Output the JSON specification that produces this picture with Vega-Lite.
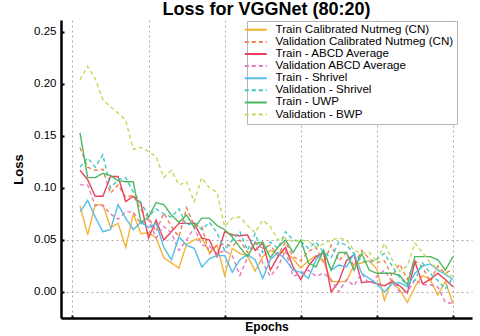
{
"$schema": "https://vega.github.io/schema/vega-lite/v6.json",
"width": 411, "height": 298,
"autosize": "none",
"padding": {"left": 61, "top": 20, "right": 8, "bottom": 18},
"background": "white",
"title": {"text": "Loss for VGGNet (80:20)", "font": "Liberation Sans", "fontSize": 18, "fontWeight": "bold", "color": "black", "anchor": "middle", "baseline": "alphabetic", "offset": -13},
"config": {"view": {"stroke": null}, "font": "Liberation Sans",
 "legend": {"orient": "none", "legendX": 186, "legendY": 1, "title": null, "strokeColor": "#b5b5b5", "fillColor": "white", "padding": 3, "labelFont": "Liberation Sans", "labelFontSize": 11.6, "labelColor": "black", "symbolType": "M-2.75,0H2.75", "symbolSize": 64, "symbolStrokeWidth": 2, "rowPadding": -0.9, "labelOffset": 14, "labelLimit": 300, "offset": 0}},
"data": {"values": [
{"epoch":1,"series":"Train Calibrated Nutmeg (CN)","loss":0.083},{"epoch":2,"series":"Train Calibrated Nutmeg (CN)","loss":0.055},{"epoch":3,"series":"Train Calibrated Nutmeg (CN)","loss":0.084},{"epoch":4,"series":"Train Calibrated Nutmeg (CN)","loss":0.084},{"epoch":5,"series":"Train Calibrated Nutmeg (CN)","loss":0.062},{"epoch":6,"series":"Train Calibrated Nutmeg (CN)","loss":0.066},{"epoch":7,"series":"Train Calibrated Nutmeg (CN)","loss":0.043},{"epoch":8,"series":"Train Calibrated Nutmeg (CN)","loss":0.075},{"epoch":9,"series":"Train Calibrated Nutmeg (CN)","loss":0.056},{"epoch":10,"series":"Train Calibrated Nutmeg (CN)","loss":0.057},
{"epoch":11,"series":"Train Calibrated Nutmeg (CN)","loss":0.052},{"epoch":12,"series":"Train Calibrated Nutmeg (CN)","loss":0.033},{"epoch":13,"series":"Train Calibrated Nutmeg (CN)","loss":0.028},{"epoch":14,"series":"Train Calibrated Nutmeg (CN)","loss":0.023},{"epoch":15,"series":"Train Calibrated Nutmeg (CN)","loss":0.046},{"epoch":16,"series":"Train Calibrated Nutmeg (CN)","loss":0.05},{"epoch":17,"series":"Train Calibrated Nutmeg (CN)","loss":0.052},{"epoch":18,"series":"Train Calibrated Nutmeg (CN)","loss":0.038},{"epoch":19,"series":"Train Calibrated Nutmeg (CN)","loss":0.045},{"epoch":20,"series":"Train Calibrated Nutmeg (CN)","loss":0.016},
{"epoch":21,"series":"Train Calibrated Nutmeg (CN)","loss":0.042},{"epoch":22,"series":"Train Calibrated Nutmeg (CN)","loss":0.037},{"epoch":23,"series":"Train Calibrated Nutmeg (CN)","loss":0.035},{"epoch":24,"series":"Train Calibrated Nutmeg (CN)","loss":0.02},{"epoch":25,"series":"Train Calibrated Nutmeg (CN)","loss":0.034},{"epoch":26,"series":"Train Calibrated Nutmeg (CN)","loss":0.04},{"epoch":27,"series":"Train Calibrated Nutmeg (CN)","loss":0.037},{"epoch":28,"series":"Train Calibrated Nutmeg (CN)","loss":0.038},{"epoch":29,"series":"Train Calibrated Nutmeg (CN)","loss":0.032},{"epoch":30,"series":"Train Calibrated Nutmeg (CN)","loss":0.023},
{"epoch":31,"series":"Train Calibrated Nutmeg (CN)","loss":0.03},{"epoch":32,"series":"Train Calibrated Nutmeg (CN)","loss":0.035},{"epoch":33,"series":"Train Calibrated Nutmeg (CN)","loss":0.03},{"epoch":34,"series":"Train Calibrated Nutmeg (CN)","loss":0.01},{"epoch":35,"series":"Train Calibrated Nutmeg (CN)","loss":0.01},{"epoch":36,"series":"Train Calibrated Nutmeg (CN)","loss":0.01},{"epoch":37,"series":"Train Calibrated Nutmeg (CN)","loss":0.026},{"epoch":38,"series":"Train Calibrated Nutmeg (CN)","loss":0.028},{"epoch":39,"series":"Train Calibrated Nutmeg (CN)","loss":0.03},{"epoch":40,"series":"Train Calibrated Nutmeg (CN)","loss":0.022},
{"epoch":41,"series":"Train Calibrated Nutmeg (CN)","loss":-0.008},{"epoch":42,"series":"Train Calibrated Nutmeg (CN)","loss":0.012},{"epoch":43,"series":"Train Calibrated Nutmeg (CN)","loss":0.002},{"epoch":44,"series":"Train Calibrated Nutmeg (CN)","loss":-0.01},{"epoch":45,"series":"Train Calibrated Nutmeg (CN)","loss":0.005},{"epoch":46,"series":"Train Calibrated Nutmeg (CN)","loss":0.016},{"epoch":47,"series":"Train Calibrated Nutmeg (CN)","loss":0.012},{"epoch":48,"series":"Train Calibrated Nutmeg (CN)","loss":-0.003},{"epoch":49,"series":"Train Calibrated Nutmeg (CN)","loss":0.01},{"epoch":50,"series":"Train Calibrated Nutmeg (CN)","loss":-0.011},

{"epoch":1,"series":"Validation Calibrated Nutmeg (CN)","loss":0.139},{"epoch":2,"series":"Validation Calibrated Nutmeg (CN)","loss":0.12},{"epoch":3,"series":"Validation Calibrated Nutmeg (CN)","loss":0.117},{"epoch":4,"series":"Validation Calibrated Nutmeg (CN)","loss":0.118},{"epoch":5,"series":"Validation Calibrated Nutmeg (CN)","loss":0.095},{"epoch":6,"series":"Validation Calibrated Nutmeg (CN)","loss":0.103},{"epoch":7,"series":"Validation Calibrated Nutmeg (CN)","loss":0.091},{"epoch":8,"series":"Validation Calibrated Nutmeg (CN)","loss":0.093},{"epoch":9,"series":"Validation Calibrated Nutmeg (CN)","loss":0.079},{"epoch":10,"series":"Validation Calibrated Nutmeg (CN)","loss":0.072},
{"epoch":11,"series":"Validation Calibrated Nutmeg (CN)","loss":0.058},{"epoch":12,"series":"Validation Calibrated Nutmeg (CN)","loss":0.076},{"epoch":13,"series":"Validation Calibrated Nutmeg (CN)","loss":0.063},{"epoch":14,"series":"Validation Calibrated Nutmeg (CN)","loss":0.053},{"epoch":15,"series":"Validation Calibrated Nutmeg (CN)","loss":0.081},{"epoch":16,"series":"Validation Calibrated Nutmeg (CN)","loss":0.064},{"epoch":17,"series":"Validation Calibrated Nutmeg (CN)","loss":0.063},{"epoch":18,"series":"Validation Calibrated Nutmeg (CN)","loss":0.037},{"epoch":19,"series":"Validation Calibrated Nutmeg (CN)","loss":0.045},{"epoch":20,"series":"Validation Calibrated Nutmeg (CN)","loss":0.046},
{"epoch":21,"series":"Validation Calibrated Nutmeg (CN)","loss":0.044},{"epoch":22,"series":"Validation Calibrated Nutmeg (CN)","loss":0.05},{"epoch":23,"series":"Validation Calibrated Nutmeg (CN)","loss":0.038},{"epoch":24,"series":"Validation Calibrated Nutmeg (CN)","loss":0.047},{"epoch":25,"series":"Validation Calibrated Nutmeg (CN)","loss":0.042},{"epoch":26,"series":"Validation Calibrated Nutmeg (CN)","loss":0.045},{"epoch":27,"series":"Validation Calibrated Nutmeg (CN)","loss":0.035},{"epoch":28,"series":"Validation Calibrated Nutmeg (CN)","loss":0.048},{"epoch":29,"series":"Validation Calibrated Nutmeg (CN)","loss":0.034},{"epoch":30,"series":"Validation Calibrated Nutmeg (CN)","loss":0.03},
{"epoch":31,"series":"Validation Calibrated Nutmeg (CN)","loss":0.039},{"epoch":32,"series":"Validation Calibrated Nutmeg (CN)","loss":0.043},{"epoch":33,"series":"Validation Calibrated Nutmeg (CN)","loss":0.028},{"epoch":34,"series":"Validation Calibrated Nutmeg (CN)","loss":0.045},{"epoch":35,"series":"Validation Calibrated Nutmeg (CN)","loss":0.03},{"epoch":36,"series":"Validation Calibrated Nutmeg (CN)","loss":0.038},{"epoch":37,"series":"Validation Calibrated Nutmeg (CN)","loss":0.025},{"epoch":38,"series":"Validation Calibrated Nutmeg (CN)","loss":0.04},{"epoch":39,"series":"Validation Calibrated Nutmeg (CN)","loss":0.032},{"epoch":40,"series":"Validation Calibrated Nutmeg (CN)","loss":0.028},
{"epoch":41,"series":"Validation Calibrated Nutmeg (CN)","loss":0.03},{"epoch":42,"series":"Validation Calibrated Nutmeg (CN)","loss":0.015},{"epoch":43,"series":"Validation Calibrated Nutmeg (CN)","loss":0.027},{"epoch":44,"series":"Validation Calibrated Nutmeg (CN)","loss":0.012},{"epoch":45,"series":"Validation Calibrated Nutmeg (CN)","loss":0.03},{"epoch":46,"series":"Validation Calibrated Nutmeg (CN)","loss":0.024},{"epoch":47,"series":"Validation Calibrated Nutmeg (CN)","loss":0.01},{"epoch":48,"series":"Validation Calibrated Nutmeg (CN)","loss":0.025},{"epoch":49,"series":"Validation Calibrated Nutmeg (CN)","loss":0.018},{"epoch":50,"series":"Validation Calibrated Nutmeg (CN)","loss":0.022},

{"epoch":1,"series":"Train - ABCD Average","loss":0.117},{"epoch":2,"series":"Train - ABCD Average","loss":0.108},{"epoch":3,"series":"Train - ABCD Average","loss":0.092},{"epoch":4,"series":"Train - ABCD Average","loss":0.092},{"epoch":5,"series":"Train - ABCD Average","loss":0.111},{"epoch":6,"series":"Train - ABCD Average","loss":0.111},{"epoch":7,"series":"Train - ABCD Average","loss":0.087},{"epoch":8,"series":"Train - ABCD Average","loss":0.092},{"epoch":9,"series":"Train - ABCD Average","loss":0.085},{"epoch":10,"series":"Train - ABCD Average","loss":0.052},
{"epoch":11,"series":"Train - ABCD Average","loss":0.069},{"epoch":12,"series":"Train - ABCD Average","loss":0.05},{"epoch":13,"series":"Train - ABCD Average","loss":0.058},{"epoch":14,"series":"Train - ABCD Average","loss":0.066},{"epoch":15,"series":"Train - ABCD Average","loss":0.066},{"epoch":16,"series":"Train - ABCD Average","loss":0.066},{"epoch":17,"series":"Train - ABCD Average","loss":0.052},{"epoch":18,"series":"Train - ABCD Average","loss":0.05},{"epoch":19,"series":"Train - ABCD Average","loss":0.034},{"epoch":20,"series":"Train - ABCD Average","loss":0.058},
{"epoch":21,"series":"Train - ABCD Average","loss":0.055},{"epoch":22,"series":"Train - ABCD Average","loss":0.054},{"epoch":23,"series":"Train - ABCD Average","loss":0.055},{"epoch":24,"series":"Train - ABCD Average","loss":0.04},{"epoch":25,"series":"Train - ABCD Average","loss":0.047},{"epoch":26,"series":"Train - ABCD Average","loss":0.021},{"epoch":27,"series":"Train - ABCD Average","loss":0.034},{"epoch":28,"series":"Train - ABCD Average","loss":0.043},{"epoch":29,"series":"Train - ABCD Average","loss":0.024},{"epoch":30,"series":"Train - ABCD Average","loss":0.012},
{"epoch":31,"series":"Train - ABCD Average","loss":0.025},{"epoch":32,"series":"Train - ABCD Average","loss":0.034},{"epoch":33,"series":"Train - ABCD Average","loss":0.038},{"epoch":34,"series":"Train - ABCD Average","loss":0.0},{"epoch":35,"series":"Train - ABCD Average","loss":0.01},{"epoch":36,"series":"Train - ABCD Average","loss":0.03},{"epoch":37,"series":"Train - ABCD Average","loss":0.036},{"epoch":38,"series":"Train - ABCD Average","loss":0.009},{"epoch":39,"series":"Train - ABCD Average","loss":0.01},{"epoch":40,"series":"Train - ABCD Average","loss":0.008},
{"epoch":41,"series":"Train - ABCD Average","loss":0.006},{"epoch":42,"series":"Train - ABCD Average","loss":0.01},{"epoch":43,"series":"Train - ABCD Average","loss":0.006},{"epoch":44,"series":"Train - ABCD Average","loss":-0.001},{"epoch":45,"series":"Train - ABCD Average","loss":0.029},{"epoch":46,"series":"Train - ABCD Average","loss":0.008},{"epoch":47,"series":"Train - ABCD Average","loss":0.012},{"epoch":48,"series":"Train - ABCD Average","loss":0.018},{"epoch":49,"series":"Train - ABCD Average","loss":0.012},{"epoch":50,"series":"Train - ABCD Average","loss":0.005},

{"epoch":1,"series":"Validation ABCD Average","loss":0.103},{"epoch":2,"series":"Validation ABCD Average","loss":0.103},{"epoch":3,"series":"Validation ABCD Average","loss":0.083},{"epoch":4,"series":"Validation ABCD Average","loss":0.083},{"epoch":5,"series":"Validation ABCD Average","loss":0.075},{"epoch":6,"series":"Validation ABCD Average","loss":0.07},{"epoch":7,"series":"Validation ABCD Average","loss":0.077},{"epoch":8,"series":"Validation ABCD Average","loss":0.077},{"epoch":9,"series":"Validation ABCD Average","loss":0.065},{"epoch":10,"series":"Validation ABCD Average","loss":0.07},
{"epoch":11,"series":"Validation ABCD Average","loss":0.052},{"epoch":12,"series":"Validation ABCD Average","loss":0.063},{"epoch":13,"series":"Validation ABCD Average","loss":0.057},{"epoch":14,"series":"Validation ABCD Average","loss":0.04},{"epoch":15,"series":"Validation ABCD Average","loss":0.05},{"epoch":16,"series":"Validation ABCD Average","loss":0.062},{"epoch":17,"series":"Validation ABCD Average","loss":0.045},{"epoch":18,"series":"Validation ABCD Average","loss":0.044},{"epoch":19,"series":"Validation ABCD Average","loss":0.037},{"epoch":20,"series":"Validation ABCD Average","loss":0.04},
{"epoch":21,"series":"Validation ABCD Average","loss":0.035},{"epoch":22,"series":"Validation ABCD Average","loss":0.016},{"epoch":23,"series":"Validation ABCD Average","loss":0.033},{"epoch":24,"series":"Validation ABCD Average","loss":0.048},{"epoch":25,"series":"Validation ABCD Average","loss":0.028},{"epoch":26,"series":"Validation ABCD Average","loss":0.015},{"epoch":27,"series":"Validation ABCD Average","loss":0.024},{"epoch":28,"series":"Validation ABCD Average","loss":0.04},{"epoch":29,"series":"Validation ABCD Average","loss":0.015},{"epoch":30,"series":"Validation ABCD Average","loss":0.018},
{"epoch":31,"series":"Validation ABCD Average","loss":0.021},{"epoch":32,"series":"Validation ABCD Average","loss":0.015},{"epoch":33,"series":"Validation ABCD Average","loss":0.018},{"epoch":34,"series":"Validation ABCD Average","loss":0.012},{"epoch":35,"series":"Validation ABCD Average","loss":0.0},{"epoch":36,"series":"Validation ABCD Average","loss":0.012},{"epoch":37,"series":"Validation ABCD Average","loss":0.006},{"epoch":38,"series":"Validation ABCD Average","loss":0.018},{"epoch":39,"series":"Validation ABCD Average","loss":0.008},{"epoch":40,"series":"Validation ABCD Average","loss":0.015},
{"epoch":41,"series":"Validation ABCD Average","loss":0.021},{"epoch":42,"series":"Validation ABCD Average","loss":0.01},{"epoch":43,"series":"Validation ABCD Average","loss":0.0},{"epoch":44,"series":"Validation ABCD Average","loss":0.0},{"epoch":45,"series":"Validation ABCD Average","loss":0.012},{"epoch":46,"series":"Validation ABCD Average","loss":0.007},{"epoch":47,"series":"Validation ABCD Average","loss":0.007},{"epoch":48,"series":"Validation ABCD Average","loss":0.005},{"epoch":49,"series":"Validation ABCD Average","loss":-0.01},{"epoch":50,"series":"Validation ABCD Average","loss":-0.011},

{"epoch":1,"series":"Train - Shrivel","loss":0.077},{"epoch":2,"series":"Train - Shrivel","loss":0.088},{"epoch":3,"series":"Train - Shrivel","loss":0.072},{"epoch":4,"series":"Train - Shrivel","loss":0.058},{"epoch":5,"series":"Train - Shrivel","loss":0.06},{"epoch":6,"series":"Train - Shrivel","loss":0.084},{"epoch":7,"series":"Train - Shrivel","loss":0.071},{"epoch":8,"series":"Train - Shrivel","loss":0.06},{"epoch":9,"series":"Train - Shrivel","loss":0.067},{"epoch":10,"series":"Train - Shrivel","loss":0.062},
{"epoch":11,"series":"Train - Shrivel","loss":0.066},{"epoch":12,"series":"Train - Shrivel","loss":0.043},{"epoch":13,"series":"Train - Shrivel","loss":0.031},{"epoch":14,"series":"Train - Shrivel","loss":0.053},{"epoch":15,"series":"Train - Shrivel","loss":0.045},{"epoch":16,"series":"Train - Shrivel","loss":0.042},{"epoch":17,"series":"Train - Shrivel","loss":0.024},{"epoch":18,"series":"Train - Shrivel","loss":0.032},{"epoch":19,"series":"Train - Shrivel","loss":0.035},{"epoch":20,"series":"Train - Shrivel","loss":0.035},
{"epoch":21,"series":"Train - Shrivel","loss":0.019},{"epoch":22,"series":"Train - Shrivel","loss":0.031},{"epoch":23,"series":"Train - Shrivel","loss":0.036},{"epoch":24,"series":"Train - Shrivel","loss":0.031},{"epoch":25,"series":"Train - Shrivel","loss":0.013},{"epoch":26,"series":"Train - Shrivel","loss":0.031},{"epoch":27,"series":"Train - Shrivel","loss":0.038},{"epoch":28,"series":"Train - Shrivel","loss":0.031},{"epoch":29,"series":"Train - Shrivel","loss":0.021},{"epoch":30,"series":"Train - Shrivel","loss":0.019},
{"epoch":31,"series":"Train - Shrivel","loss":0.013},{"epoch":32,"series":"Train - Shrivel","loss":0.031},{"epoch":33,"series":"Train - Shrivel","loss":0.04},{"epoch":34,"series":"Train - Shrivel","loss":0.021},{"epoch":35,"series":"Train - Shrivel","loss":0.026},{"epoch":36,"series":"Train - Shrivel","loss":0.024},{"epoch":37,"series":"Train - Shrivel","loss":0.037},{"epoch":38,"series":"Train - Shrivel","loss":0.018},{"epoch":39,"series":"Train - Shrivel","loss":0.013},{"epoch":40,"series":"Train - Shrivel","loss":0.008},
{"epoch":41,"series":"Train - Shrivel","loss":0.0},{"epoch":42,"series":"Train - Shrivel","loss":0.008},{"epoch":43,"series":"Train - Shrivel","loss":0.009},{"epoch":44,"series":"Train - Shrivel","loss":0.005},{"epoch":45,"series":"Train - Shrivel","loss":0.018},{"epoch":46,"series":"Train - Shrivel","loss":0.025},{"epoch":47,"series":"Train - Shrivel","loss":0.027},{"epoch":48,"series":"Train - Shrivel","loss":0.021},{"epoch":49,"series":"Train - Shrivel","loss":0.017},{"epoch":50,"series":"Train - Shrivel","loss":0.012},

{"epoch":1,"series":"Validation - Shrivel","loss":0.12},{"epoch":2,"series":"Validation - Shrivel","loss":0.129},{"epoch":3,"series":"Validation - Shrivel","loss":0.12},{"epoch":4,"series":"Validation - Shrivel","loss":0.132},{"epoch":5,"series":"Validation - Shrivel","loss":0.1},{"epoch":6,"series":"Validation - Shrivel","loss":0.108},{"epoch":7,"series":"Validation - Shrivel","loss":0.11},{"epoch":8,"series":"Validation - Shrivel","loss":0.096},{"epoch":9,"series":"Validation - Shrivel","loss":0.086},{"epoch":10,"series":"Validation - Shrivel","loss":0.073},
{"epoch":11,"series":"Validation - Shrivel","loss":0.08},{"epoch":12,"series":"Validation - Shrivel","loss":0.075},{"epoch":13,"series":"Validation - Shrivel","loss":0.072},{"epoch":14,"series":"Validation - Shrivel","loss":0.08},{"epoch":15,"series":"Validation - Shrivel","loss":0.064},{"epoch":16,"series":"Validation - Shrivel","loss":0.067},{"epoch":17,"series":"Validation - Shrivel","loss":0.06},{"epoch":18,"series":"Validation - Shrivel","loss":0.067},{"epoch":19,"series":"Validation - Shrivel","loss":0.057},{"epoch":20,"series":"Validation - Shrivel","loss":0.04},
{"epoch":21,"series":"Validation - Shrivel","loss":0.05},{"epoch":22,"series":"Validation - Shrivel","loss":0.058},{"epoch":23,"series":"Validation - Shrivel","loss":0.04},{"epoch":24,"series":"Validation - Shrivel","loss":0.056},{"epoch":25,"series":"Validation - Shrivel","loss":0.038},{"epoch":26,"series":"Validation - Shrivel","loss":0.048},{"epoch":27,"series":"Validation - Shrivel","loss":0.042},{"epoch":28,"series":"Validation - Shrivel","loss":0.058},{"epoch":29,"series":"Validation - Shrivel","loss":0.05},{"epoch":30,"series":"Validation - Shrivel","loss":0.049},
{"epoch":31,"series":"Validation - Shrivel","loss":0.042},{"epoch":32,"series":"Validation - Shrivel","loss":0.048},{"epoch":33,"series":"Validation - Shrivel","loss":0.038},{"epoch":34,"series":"Validation - Shrivel","loss":0.033},{"epoch":35,"series":"Validation - Shrivel","loss":0.048},{"epoch":36,"series":"Validation - Shrivel","loss":0.045},{"epoch":37,"series":"Validation - Shrivel","loss":0.037},{"epoch":38,"series":"Validation - Shrivel","loss":0.03},{"epoch":39,"series":"Validation - Shrivel","loss":0.028},{"epoch":40,"series":"Validation - Shrivel","loss":0.032},
{"epoch":41,"series":"Validation - Shrivel","loss":0.037},{"epoch":42,"series":"Validation - Shrivel","loss":0.025},{"epoch":43,"series":"Validation - Shrivel","loss":0.014},{"epoch":44,"series":"Validation - Shrivel","loss":0.007},{"epoch":45,"series":"Validation - Shrivel","loss":0.011},{"epoch":46,"series":"Validation - Shrivel","loss":0.028},{"epoch":47,"series":"Validation - Shrivel","loss":0.018},{"epoch":48,"series":"Validation - Shrivel","loss":0.011},{"epoch":49,"series":"Validation - Shrivel","loss":0.003},{"epoch":50,"series":"Validation - Shrivel","loss":0.014},

{"epoch":1,"series":"Train - UWP","loss":0.153},{"epoch":2,"series":"Train - UWP","loss":0.11},{"epoch":3,"series":"Train - UWP","loss":0.11},{"epoch":4,"series":"Train - UWP","loss":0.114},{"epoch":5,"series":"Train - UWP","loss":0.112},{"epoch":6,"series":"Train - UWP","loss":0.107},{"epoch":7,"series":"Train - UWP","loss":0.106},{"epoch":8,"series":"Train - UWP","loss":0.106},{"epoch":9,"series":"Train - UWP","loss":0.067},{"epoch":10,"series":"Train - UWP","loss":0.072},
{"epoch":11,"series":"Train - UWP","loss":0.086},{"epoch":12,"series":"Train - UWP","loss":0.084},{"epoch":13,"series":"Train - UWP","loss":0.074},{"epoch":14,"series":"Train - UWP","loss":0.067},{"epoch":15,"series":"Train - UWP","loss":0.074},{"epoch":16,"series":"Train - UWP","loss":0.062},{"epoch":17,"series":"Train - UWP","loss":0.071},{"epoch":18,"series":"Train - UWP","loss":0.071},{"epoch":19,"series":"Train - UWP","loss":0.064},{"epoch":20,"series":"Train - UWP","loss":0.06},
{"epoch":21,"series":"Train - UWP","loss":0.053},{"epoch":22,"series":"Train - UWP","loss":0.043},{"epoch":23,"series":"Train - UWP","loss":0.034},{"epoch":24,"series":"Train - UWP","loss":0.047},{"epoch":25,"series":"Train - UWP","loss":0.048},{"epoch":26,"series":"Train - UWP","loss":0.033},{"epoch":27,"series":"Train - UWP","loss":0.043},{"epoch":28,"series":"Train - UWP","loss":0.05},{"epoch":29,"series":"Train - UWP","loss":0.038},{"epoch":30,"series":"Train - UWP","loss":0.05},
{"epoch":31,"series":"Train - UWP","loss":0.028},{"epoch":32,"series":"Train - UWP","loss":0.024},{"epoch":33,"series":"Train - UWP","loss":0.04},{"epoch":34,"series":"Train - UWP","loss":0.021},{"epoch":35,"series":"Train - UWP","loss":0.038},{"epoch":36,"series":"Train - UWP","loss":0.038},{"epoch":37,"series":"Train - UWP","loss":0.021},{"epoch":38,"series":"Train - UWP","loss":0.037},{"epoch":39,"series":"Train - UWP","loss":0.021},{"epoch":40,"series":"Train - UWP","loss":0.018},
{"epoch":41,"series":"Train - UWP","loss":0.018},{"epoch":42,"series":"Train - UWP","loss":0.018},{"epoch":43,"series":"Train - UWP","loss":0.016},{"epoch":44,"series":"Train - UWP","loss":0.007},{"epoch":45,"series":"Train - UWP","loss":0.034},{"epoch":46,"series":"Train - UWP","loss":0.034},{"epoch":47,"series":"Train - UWP","loss":0.034},{"epoch":48,"series":"Train - UWP","loss":0.031},{"epoch":49,"series":"Train - UWP","loss":0.021},{"epoch":50,"series":"Train - UWP","loss":0.034},

{"epoch":1,"series":"Validation - BWP","loss":0.204},{"epoch":2,"series":"Validation - BWP","loss":0.217},{"epoch":3,"series":"Validation - BWP","loss":0.205},{"epoch":4,"series":"Validation - BWP","loss":0.185},{"epoch":5,"series":"Validation - BWP","loss":0.178},{"epoch":6,"series":"Validation - BWP","loss":0.172},{"epoch":7,"series":"Validation - BWP","loss":0.165},{"epoch":8,"series":"Validation - BWP","loss":0.137},{"epoch":9,"series":"Validation - BWP","loss":0.139},{"epoch":10,"series":"Validation - BWP","loss":0.135},
{"epoch":11,"series":"Validation - BWP","loss":0.13},{"epoch":12,"series":"Validation - BWP","loss":0.11},{"epoch":13,"series":"Validation - BWP","loss":0.117},{"epoch":14,"series":"Validation - BWP","loss":0.103},{"epoch":15,"series":"Validation - BWP","loss":0.106},{"epoch":16,"series":"Validation - BWP","loss":0.087},{"epoch":17,"series":"Validation - BWP","loss":0.11},{"epoch":18,"series":"Validation - BWP","loss":0.1},{"epoch":19,"series":"Validation - BWP","loss":0.096},{"epoch":20,"series":"Validation - BWP","loss":0.063},
{"epoch":21,"series":"Validation - BWP","loss":0.071},{"epoch":22,"series":"Validation - BWP","loss":0.072},{"epoch":23,"series":"Validation - BWP","loss":0.064},{"epoch":24,"series":"Validation - BWP","loss":0.057},{"epoch":25,"series":"Validation - BWP","loss":0.069},{"epoch":26,"series":"Validation - BWP","loss":0.063},{"epoch":27,"series":"Validation - BWP","loss":0.05},{"epoch":28,"series":"Validation - BWP","loss":0.052},{"epoch":29,"series":"Validation - BWP","loss":0.048},{"epoch":30,"series":"Validation - BWP","loss":0.05},
{"epoch":31,"series":"Validation - BWP","loss":0.049},{"epoch":32,"series":"Validation - BWP","loss":0.043},{"epoch":33,"series":"Validation - BWP","loss":0.046},{"epoch":34,"series":"Validation - BWP","loss":0.05},{"epoch":35,"series":"Validation - BWP","loss":0.052},{"epoch":36,"series":"Validation - BWP","loss":0.05},{"epoch":37,"series":"Validation - BWP","loss":0.04},{"epoch":38,"series":"Validation - BWP","loss":0.037},{"epoch":39,"series":"Validation - BWP","loss":0.038},{"epoch":40,"series":"Validation - BWP","loss":0.029},
{"epoch":41,"series":"Validation - BWP","loss":0.047},{"epoch":42,"series":"Validation - BWP","loss":0.031},{"epoch":43,"series":"Validation - BWP","loss":0.02},{"epoch":44,"series":"Validation - BWP","loss":0.025},{"epoch":45,"series":"Validation - BWP","loss":0.047},{"epoch":46,"series":"Validation - BWP","loss":0.038},{"epoch":47,"series":"Validation - BWP","loss":0.028},{"epoch":48,"series":"Validation - BWP","loss":0.022},{"epoch":49,"series":"Validation - BWP","loss":0.018},{"epoch":50,"series":"Validation - BWP","loss":0.015}
]},
"mark": {"type": "line", "strokeWidth": 1.4, "clip": true},
"encoding": {
 "x": {"field": "epoch", "type": "quantitative",
  "scale": {"domain": [-1.5, 52.5], "nice": false, "zero": false},
  "axis": {"values": [0,10,20,30,40,50], "labels": false, "title": "Epochs", "titleFont": "Liberation Sans", "titleFontSize": 12, "titleFontWeight": "bold", "titleColor": "black", "titlePadding": 2,
   "domainColor": "black", "domainWidth": 2.5, "tickColor": "black", "tickSize": -3, "tickWidth": 2,
   "grid": true, "gridColor": "#aaaaaa", "gridDash": [2,3], "gridWidth": 1}},
 "y": {"field": "loss", "type": "quantitative",
  "scale": {"domain": [-0.025, 0.2615], "nice": false, "zero": false},
  "axis": {"values": [0,0.05,0.1,0.15,0.2,0.25], "format": ".2f", "labelFont": "Liberation Sans", "labelFontSize": 11.5, "labelColor": "black", "labelPadding": 8,
   "title": "Loss", "titleFont": "Liberation Sans", "titleFontSize": 13, "titleFontWeight": "bold", "titleColor": "black", "titlePadding": 8,
   "domainColor": "black", "domainWidth": 2.5, "tickColor": "black", "tickSize": -3, "tickWidth": 2,
   "grid": true, "gridColor": "#aaaaaa", "gridDash": [2,3], "gridWidth": 1,
   "gridOpacity": {"condition": {"test": "datum.value <= 0.06", "value": 1}, "value": 0}}},
 "color": {"field": "series", "type": "nominal",
  "scale": {"domain": ["Train Calibrated Nutmeg (CN)","Validation Calibrated Nutmeg (CN)","Train - ABCD Average","Validation ABCD Average","Train - Shrivel","Validation - Shrivel","Train - UWP","Validation - BWP"],
   "range": ["#f5b335","#f08050","#e8405a","#e078c0","#56bde8","#3cc8c4","#4db860","#c5da5a"]}},
 "strokeDash": {"field": "series", "type": "nominal",
  "scale": {"domain": ["Train Calibrated Nutmeg (CN)","Validation Calibrated Nutmeg (CN)","Train - ABCD Average","Validation ABCD Average","Train - Shrivel","Validation - Shrivel","Train - UWP","Validation - BWP"],
   "range": [[1,0],[4,3],[1,0],[4,3],[1,0],[4,3],[1,0],[4,3]]}}
}
}
